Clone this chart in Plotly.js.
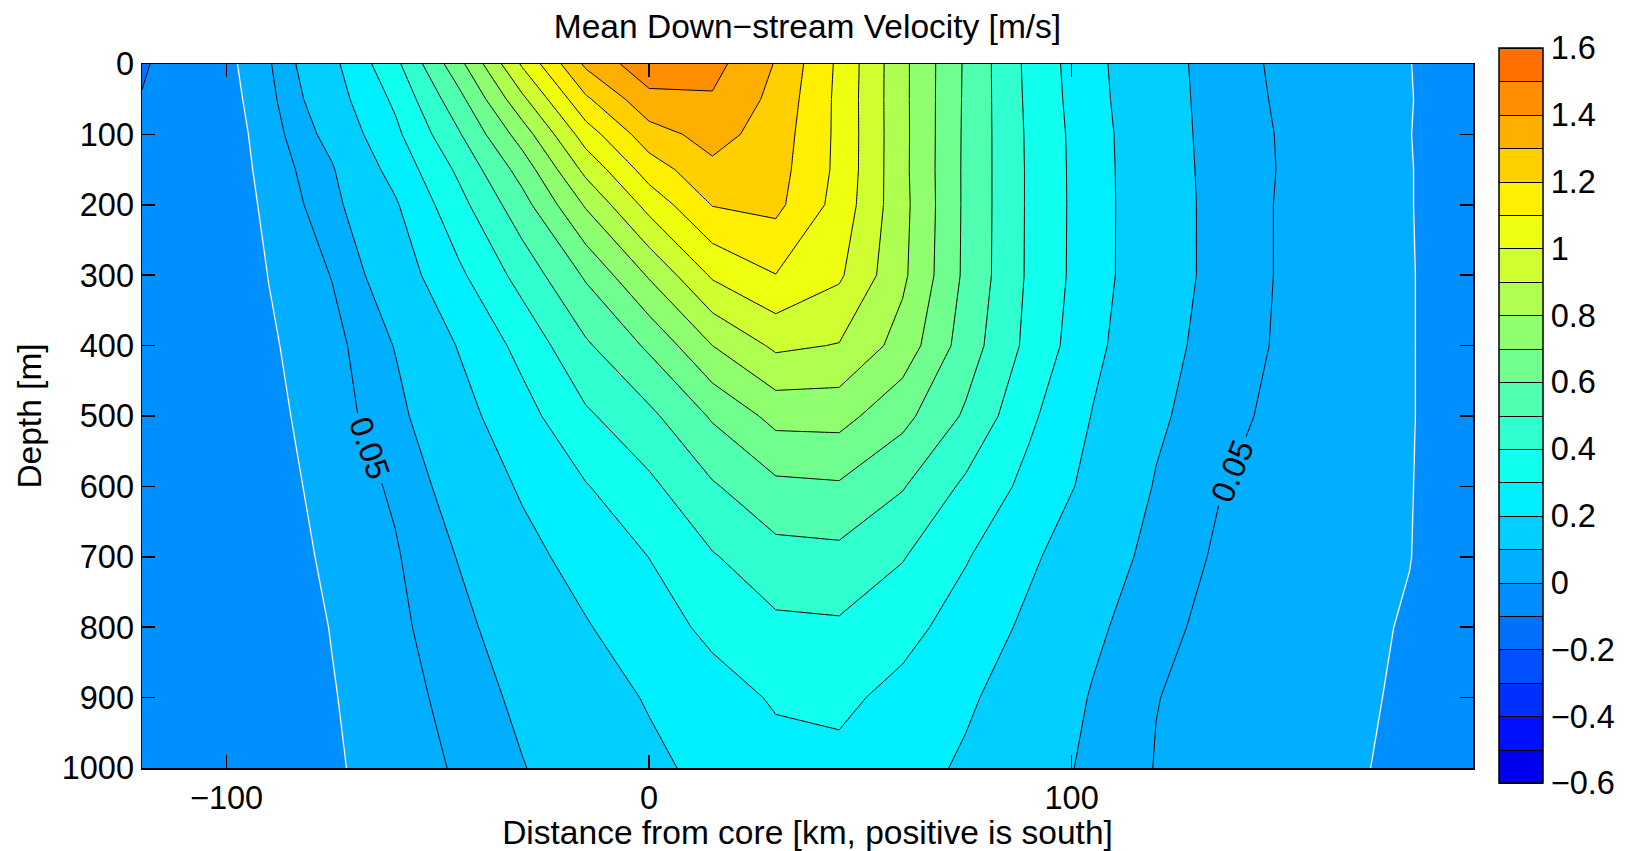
<!DOCTYPE html>
<html>
<head>
<meta charset="utf-8">
<script src="https://cdn.plot.ly/plotly-3.0.1.min.js"></script>
<style>
html,body{margin:0;padding:0;background:#ffffff;}
#chart{width:1631px;height:851px;}
</style>
</head>
<body>
<div id="chart"></div>
<script>
// ---- data ----
const distanceKm = [-120, -105, -90, -75, -60, -45, -30, -15, 0, 15, 30, 45, 60, 75, 90, 105, 120, 135, 150, 165, 180, 195];
const depthM = [0, 50, 100, 150, 200, 300, 400, 500, 600, 700, 800, 900, 1000];

// mean down-stream velocity [m/s], one row per depth
const velocityAt0m    = [-0.108, -0.045, 0.044, 0.175, 0.375, 0.668, 1.013, 1.318, 1.468, 1.433, 1.294, 1.080, 0.826, 0.585, 0.373, 0.225, 0.121, 0.080, 0.037, 0.018, 0.001, -0.030];
const velocityAt50m   = [-0.097, -0.050, 0.035, 0.153, 0.319, 0.568, 0.878, 1.183, 1.370, 1.390, 1.272, 1.076, 0.826, 0.583, 0.378, 0.230, 0.123, 0.081, 0.041, 0.021, 0.002, -0.030];
const velocityAt100m  = [-0.095, -0.055, 0.026, 0.123, 0.278, 0.490, 0.748, 1.049, 1.258, 1.337, 1.253, 1.077, 0.827, 0.581, 0.383, 0.238, 0.125, 0.082, 0.045, 0.023, 0.001, -0.030];
const velocityAt150m  = [-0.090, -0.053, 0.018, 0.094, 0.232, 0.419, 0.641, 0.927, 1.147, 1.277, 1.240, 1.076, 0.826, 0.580, 0.385, 0.240, 0.127, 0.083, 0.046, 0.024, 0.002, -0.030];
const velocityAt200m  = [-0.088, -0.052, 0.011, 0.081, 0.190, 0.367, 0.562, 0.811, 1.035, 1.204, 1.225, 1.063, 0.830, 0.580, 0.385, 0.241, 0.128, 0.084, 0.044, 0.024, 0.002, -0.030];
const velocityAt300m  = [-0.085, -0.050, 0.001, 0.052, 0.144, 0.281, 0.437, 0.613, 0.811, 1.014, 1.098, 1.015, 0.820, 0.578, 0.384, 0.240, 0.128, 0.084, 0.044, 0.025, 0.003, -0.030];
const velocityAt400m  = [-0.080, -0.052, -0.007, 0.033, 0.103, 0.205, 0.330, 0.485, 0.617, 0.800, 0.919, 0.895, 0.760, 0.551, 0.372, 0.224, 0.120, 0.079, 0.042, 0.023, 0.003, -0.030];
const velocityAt500m  = [-0.078, -0.050, -0.015, 0.028, 0.082, 0.165, 0.263, 0.384, 0.477, 0.612, 0.732, 0.735, 0.630, 0.485, 0.318, 0.196, 0.112, 0.062, 0.040, 0.022, 0.003, -0.030];
const velocityAt600m  = [-0.075, -0.045, -0.021, 0.018, 0.058, 0.131, 0.211, 0.294, 0.378, 0.489, 0.577, 0.588, 0.507, 0.380, 0.271, 0.172, 0.095, 0.052, 0.035, 0.019, 0.002, -0.030];
const velocityAt700m  = [-0.072, -0.042, -0.027, 0.010, 0.045, 0.103, 0.171, 0.236, 0.301, 0.392, 0.464, 0.473, 0.406, 0.307, 0.215, 0.139, 0.079, 0.043, 0.031, 0.016, 0.001, -0.030];
const velocityAt800m  = [-0.070, -0.040, -0.033, 0.002, 0.038, 0.083, 0.138, 0.193, 0.255, 0.323, 0.379, 0.386, 0.333, 0.256, 0.181, 0.113, 0.063, 0.036, 0.027, 0.012, -0.004, -0.030];
const velocityAt900m  = [-0.068, -0.040, -0.036, -0.003, 0.030, 0.068, 0.114, 0.160, 0.207, 0.260, 0.310, 0.322, 0.270, 0.213, 0.154, 0.095, 0.051, 0.037, 0.022, 0.008, -0.006, -0.030];
const velocityAt1000m = [-0.065, -0.040, -0.038, -0.007, 0.024, 0.056, 0.097, 0.139, 0.181, 0.224, 0.268, 0.274, 0.235, 0.187, 0.134, 0.086, 0.048, 0.034, 0.019, 0.005, -0.008, -0.030];

// contour levels
const levelMin = -0.6;
const levelMax = 1.6;
const levelStep = 0.1;
const zeroLevel = 0;
const labelledLevel = 0.05;

// one colour per 0.1 band, from -0.6 (bottom) to 1.6 (top)
const bandColors = ['#0000EF', '#0010FF', '#0030FF', '#0050FF', '#0070FF', '#008FFF', '#00AFFF', '#00CFFF', '#00EFFF', '#10FFEF', '#30FFCF',
                    '#50FFAF', '#70FF8F', '#8FFF70', '#AFFF50', '#CFFF30', '#EFFF10', '#FFEF00', '#FFCF00', '#FFAF00', '#FF8F00', '#FF7000'];

// tick values
const xTickValues = [-100, 0, 100];
const yTickValues = [0, 100, 200, 300, 400, 500, 600, 700, 800, 900, 1000];
const colorbarTickValues = [-0.6, -0.4, -0.2, 0, 0.2, 0.4, 0.6, 0.8, 1, 1.2, 1.4, 1.6];

// ---- build the figure ----
const velocity = [velocityAt0m, velocityAt50m, velocityAt100m, velocityAt150m, velocityAt200m, velocityAt300m, velocityAt400m,
                  velocityAt500m, velocityAt600m, velocityAt700m, velocityAt800m, velocityAt900m, velocityAt1000m];

// colour stops at the centre of every band (fills are sampled at band centres)
const nBands = bandColors.length;
const bandScale = [[0, bandColors[0]]];
bandColors.forEach(function (c, k) { bandScale.push([(k + 0.5) / nBands, c]); });
bandScale.push([1, bandColors[nBands - 1]]);

const FONT = 'Liberation Sans, Arial, Helvetica, sans-serif';
const TICK_SIZE = 32.5;
const LABEL_SIZE = 33.5;

// plot area in pixels (from the reference)
const PLOT_L = 142, PLOT_R = 1473, PLOT_T = 64, PLOT_B = 768;
const plotW = PLOT_R - PLOT_L, plotH = PLOT_B - PLOT_T;

const filled = {
  type: 'contour',
  x: distanceKm, y: depthM, z: velocity,
  autocontour: false,
  zmin: levelMin, zmax: levelMax,
  contours: {start: levelMin, end: levelMax, size: levelStep, coloring: 'fill', showlines: true},
  colorscale: bandScale,
  line: {color: '#000000', width: 1, smoothing: 0},
  hoverinfo: 'skip',
  colorbar: {
    thickness: 44, thicknessmode: 'pixels',
    len: 735 / plotH, lenmode: 'fraction',
    x: (1499 - PLOT_L) / plotW, xref: 'paper', xanchor: 'left',
    y: (PLOT_B - 415.5) / plotH, yref: 'paper', yanchor: 'middle',
    xpad: 0, ypad: 0,
    outlinewidth: 1.5, outlinecolor: '#000000',
    tickvals: colorbarTickValues,
    ticks: '',
    tickfont: {family: FONT, size: TICK_SIZE, color: '#000000'}
  }
};

const zeroLine = {
  type: 'contour',
  x: distanceKm, y: depthM, z: velocity,
  autocontour: false,
  contours: {start: zeroLevel, end: zeroLevel, size: 1, coloring: 'none'},
  line: {color: '#ffffff', width: 1.4, smoothing: 0},
  showscale: false,
  hoverinfo: 'skip'
};

const labelledLine = {
  type: 'contour',
  x: distanceKm, y: depthM, z: velocity,
  autocontour: false,
  contours: {start: labelledLevel, end: labelledLevel, size: 1, coloring: 'none', showlabels: true,
             labelfont: {family: FONT, size: TICK_SIZE, color: '#000000'}},
  line: {color: '#000000', width: 1, smoothing: 0},
  showscale: false,
  hoverinfo: 'skip'
};

const axisCommon = {
  ticks: 'inside', ticklen: 13, tickwidth: 1.5, tickcolor: '#000000',
  mirror: 'ticks', showline: true, linecolor: '#000000', linewidth: 1.5,
  showgrid: false, zeroline: false,
  tickfont: {family: FONT, size: TICK_SIZE, color: '#000000'},
  automargin: false
};

const layout = {
  width: 1631, height: 851,
  margin: {l: PLOT_L, r: 1631 - PLOT_R, t: PLOT_T, b: 851 - PLOT_B, pad: 0},
  paper_bgcolor: '#ffffff', plot_bgcolor: '#ffffff',
  font: {family: FONT, color: '#000000', size: TICK_SIZE},
  showlegend: false,
  title: {
    text: 'Mean Down\u2212stream Velocity [m/s]',
    font: {family: FONT, size: LABEL_SIZE, color: '#000000'},
    x: 0.5, xref: 'paper', xanchor: 'center',
    y: 1 - 26 / 851, yref: 'container', yanchor: 'middle'
  },
  xaxis: Object.assign({}, axisCommon, {
    range: [distanceKm[0], distanceKm[distanceKm.length - 1]],
    tickvals: xTickValues,
    title: {text: 'Distance from core [km, positive is south]', font: {family: FONT, size: LABEL_SIZE, color: '#000000'}, standoff: 4}
  }),
  yaxis: Object.assign({}, axisCommon, {
    range: [depthM[depthM.length - 1], depthM[0]],
    tickvals: yTickValues,
    title: {text: 'Depth [m]', font: {family: FONT, size: LABEL_SIZE, color: '#000000'}, standoff: 10}
  })
};

Plotly.newPlot('chart', [filled, zeroLine, labelledLine], layout, {displayModeBar: false, staticPlot: true});
</script>
</body>
</html>
